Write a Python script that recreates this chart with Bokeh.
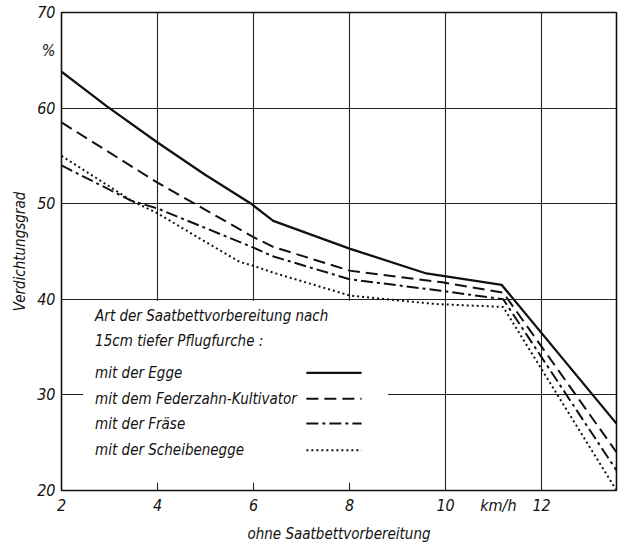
from bokeh.plotting import figure
from bokeh.models import FixedTicker, Range1d
from bokeh.core.properties import value
from bokeh.embed import file_html
from bokeh.resources import INLINE

FONT = "DejaVu Sans Condensed"

# ---- data ----
egge_x = [2.0, 2.94, 4.0, 5.0, 5.95, 6.41, 8.0, 9.6, 11.17, 13.56]
egge_y = [63.8, 60.2, 56.4, 53.0, 50.0, 48.2, 45.3, 42.7, 41.5, 27.0]

feder_x = [2.0, 4.0, 6.0, 6.4, 8.0, 9.9, 11.2, 13.56]
feder_y = [58.5, 52.2, 46.5, 45.5, 43.0, 41.8, 40.7, 24.0]

fraese_x = [2.0, 3.46, 4.0, 6.0, 6.4, 8.0, 9.9, 11.2, 13.56]
fraese_y = [54.0, 50.3, 49.5, 45.4, 44.5, 42.1, 40.9, 40.0, 22.1]

scheibe_x = [2.0, 3.0, 3.46, 4.0, 4.5, 5.0, 5.72, 6.0, 6.4, 8.0, 9.8, 11.2, 13.56]
scheibe_y = [55.0, 51.8, 50.3, 49.0, 47.5, 46.0, 43.9, 43.5, 42.8, 40.4, 39.5, 39.2, 20.0]

series_names = ["mit der Egge", "mit dem Federzahn-Kultivator",
                "mit der Fräse", "mit der Scheibenegge"]
legend_title = ["Art der Saatbettvorbereitung nach", "15cm tiefer Pflugfurche :"]

x_ticks = [2, 4, 6, 8, 10, 12]
y_ticks = [20, 30, 40, 50, 60, 70]
x_unit = "km/h"
x_unit_pos = 11.1
y_unit = "%"
y_unit_pos = 66.0

# ---- figure ----
p = figure(frame_width=555, frame_height=478, output_backend="svg",
           toolbar_location=None,
           x_range=Range1d(2, 13.56), y_range=Range1d(20, 70),
           min_border_left=61, min_border_right=3, min_border_top=12,
           min_border_bottom=54)
p.background_fill_color = "white"
p.border_fill_color = "white"
p.outline_line_color = "#111111"
p.outline_line_width = 1.6

# axes
p.xaxis.ticker = FixedTicker(ticks=x_ticks + [x_unit_pos])
p.xaxis.major_label_overrides = {x_unit_pos: x_unit}
p.yaxis.ticker = FixedTicker(ticks=y_ticks + [y_unit_pos])
p.yaxis.major_label_overrides = {y_unit_pos: y_unit}
p.xgrid.ticker = FixedTicker(ticks=x_ticks)
p.ygrid.ticker = FixedTicker(ticks=y_ticks)
for ax in (p.xaxis[0], p.yaxis[0]):
    ax.axis_line_color = None
    ax.major_tick_line_color = None
    ax.minor_tick_line_color = None
    ax.major_tick_out = 0
    ax.major_tick_in = 0
    ax.minor_tick_out = 0
    ax.major_label_text_font = FONT
    ax.major_label_text_font_style = "italic"
    ax.major_label_text_font_size = "16px"
    ax.major_label_text_color = "#111111"
    ax.axis_label_text_font = FONT
    ax.axis_label_text_font_style = "italic"
    ax.axis_label_text_font_size = "15px"
    ax.axis_label_text_color = "#111111"
p.xaxis.major_label_standoff = 5
p.yaxis.major_label_standoff = 6
p.xaxis.axis_label = "ohne Saatbettvorbereitung"
p.yaxis.axis_label = "Verdichtungsgrad"
p.xaxis.axis_label_standoff = 7
p.yaxis.axis_label_standoff = 5

p.xgrid.grid_line_color = "#222222"
p.ygrid.grid_line_color = "#222222"
p.xgrid.grid_line_width = 1.1
p.ygrid.grid_line_width = 1.1

# white legend area covering the grid
p.quad(left=[2.45], right=[8.8], bottom=[20.8], top=[39.85],
       fill_color="white", line_color=None)

# curves
styles = [("solid", 2.3), ("12 6", 2.0), ("12 4 3 4", 2.0), ("2 3", 2.0)]
data = [(egge_x, egge_y), (feder_x, feder_y), (fraese_x, fraese_y),
        (scheibe_x, scheibe_y)]
for (xs, ys), (dash, w) in zip(data, styles):
    p.line(xs, ys, line_color="#111111", line_width=w, line_dash=dash)

# legend text
p.text(x=[2.7, 2.7], y=[38.3, 35.6], text=legend_title,
       text_font=value(FONT), text_font_style="italic", text_font_size="15px",
       text_color="#111111", text_baseline="middle")
row_y = [32.3, 29.6, 27.0, 24.2]
p.text(x=[2.7] * 4, y=row_y, text=series_names,
       text_font=value(FONT), text_font_style="italic", text_font_size="15px",
       text_color="#111111", text_baseline="middle")
for yy, (dash, w) in zip(row_y, styles):
    p.line([7.1, 8.25], [yy, yy], line_color="#111111", line_width=w,
           line_dash=dash)

open("out.html", "w").write(file_html(p, INLINE))
